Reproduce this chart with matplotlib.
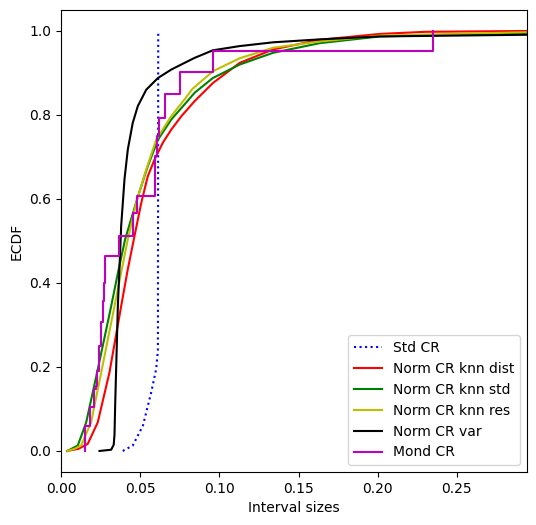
import matplotlib
matplotlib.use("Agg")
import matplotlib.pyplot as plt

# values (interval size -> ECDF)
std_x = [0.0390, 0.0453, 0.0517, 0.0570, 0.0601, 0.0612, 0.0614]
std_y = [0.0, 0.013, 0.060, 0.140, 0.195, 0.240, 1.0]

dist_x = [0.0038, 0.0110, 0.0169, 0.0232, 0.0306, 0.0380, 0.0422, 0.0460, 0.0507, 0.0548,
          0.0591, 0.0643, 0.0696, 0.0760, 0.0844, 0.0959, 0.1128, 0.1339, 0.1634, 0.2014,
          0.2300, 0.2941]
dist_y = [0.0, 0.005, 0.017, 0.068, 0.187, 0.345, 0.433, 0.504, 0.591, 0.654,
          0.694, 0.734, 0.765, 0.797, 0.833, 0.876, 0.924, 0.956, 0.979, 0.993,
          0.998, 1.0]

kstd_x = [0.0040, 0.0106, 0.0159, 0.0228, 0.0317, 0.0360, 0.0405, 0.0485, 0.0548, 0.0612,
          0.0696, 0.0780, 0.0844, 0.0959, 0.1128, 0.1339, 0.1634, 0.2014, 0.2941]
kstd_y = [0.0, 0.013, 0.068, 0.187, 0.345, 0.425, 0.504, 0.605, 0.678, 0.741,
          0.789, 0.825, 0.853, 0.888, 0.920, 0.948, 0.971, 0.987, 0.995]

kres_x = [0.0040, 0.0085, 0.0127, 0.0190, 0.0254, 0.0338, 0.0380, 0.0422, 0.0475, 0.0538,
          0.0601, 0.0696, 0.0780, 0.0830, 0.0959, 0.1128, 0.1339, 0.1634, 0.2014, 0.2941]
kres_y = [0.0, 0.005, 0.013, 0.068, 0.187, 0.345, 0.425, 0.504, 0.591, 0.670,
          0.741, 0.797, 0.837, 0.862, 0.904, 0.935, 0.960, 0.975, 0.989, 0.997]

var_x = [0.0243, 0.0317, 0.0333, 0.0338, 0.0342, 0.0359, 0.0369, 0.0380, 0.0401, 0.0422,
         0.0453, 0.0485, 0.0538, 0.0612, 0.0696, 0.0780, 0.0844, 0.0959, 0.1128, 0.1339,
         0.1634, 0.2014, 0.2941]
var_y = [0.0, 0.003, 0.015, 0.040, 0.108, 0.345, 0.433, 0.536, 0.647, 0.718,
         0.781, 0.821, 0.860, 0.888, 0.908, 0.924, 0.936, 0.954, 0.964, 0.973,
         0.980, 0.987, 0.991]

# Mond CR is a step function: jump positions and level after each jump
mond_x = [0.0152, 0.0180, 0.0207, 0.0222, 0.0230, 0.0237, 0.0254, 0.0268, 0.0274, 0.0281,
          0.0369, 0.0453, 0.0479, 0.0595, 0.0608, 0.0618, 0.0658, 0.0753, 0.0960, 0.2351]
mond_y = [0.060, 0.104, 0.147, 0.155, 0.190, 0.250, 0.306, 0.357, 0.401, 0.464,
          0.512, 0.567, 0.607, 0.702, 0.750, 0.793, 0.849, 0.902, 0.953, 1.0]

fig = plt.figure(figsize=(5.36, 5.25), dpi=100)
ax = fig.add_axes([0.1138, 0.1010, 0.8689, 0.8800])

ax.plot(std_x, std_y, "b:", label="Std CR")
ax.plot(dist_x, dist_y, "r-", label="Norm CR knn dist")
ax.plot(kstd_x, kstd_y, "g-", label="Norm CR knn std")
ax.plot(kres_x, kres_y, "y-", label="Norm CR knn res")
ax.plot(var_x, var_y, "k-", label="Norm CR var")
ax.plot([mond_x[0]] + mond_x, [0.0] + mond_y, "m-", drawstyle="steps-post", label="Mond CR")

ax.set_xlim(0, 0.2941)
ax.set_ylim(-0.05, 1.05)
ax.set_xlabel("Interval sizes")
ax.set_ylabel("ECDF")
ax.legend(loc="lower right")

fig.savefig("out.png", dpi=100)
